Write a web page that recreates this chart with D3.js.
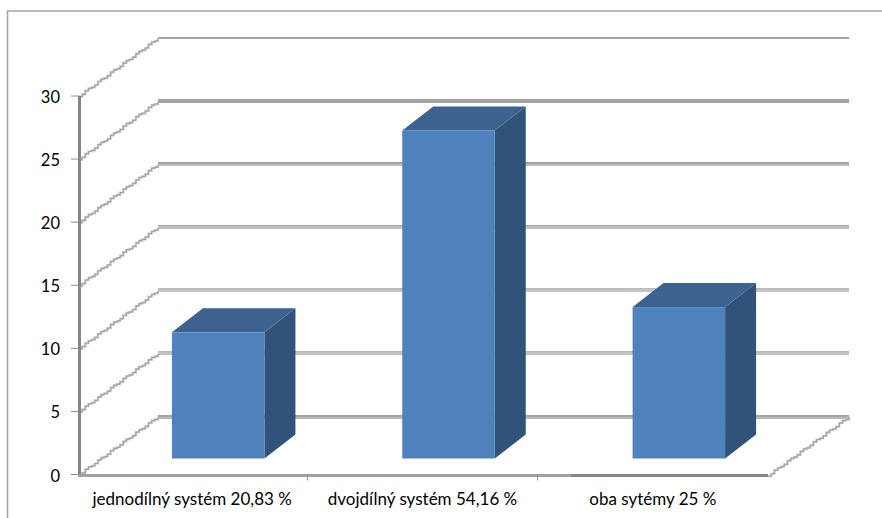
<!DOCTYPE html>
<html><head><meta charset="utf-8">
<script src="https://cdn.jsdelivr.net/npm/d3@7"></script>
<style>html,body{margin:0;padding:0;background:#fff}svg{display:block}text{font-family:Lato,"Open Sans",sans-serif;fill:#000}</style>
</head><body><svg id="c" width="882" height="518"></svg>
<script>
const categories=["jednodílný systém 20,83 %","dvojdílný systém 54,16 %","oba sytémy 25 %"];
const values=[10,26,12];
const yTicks=[0,5,10,15,20,25,30];
const svg=d3.select("#c");
const y=d3.scaleLinear().domain([0,30]).range([474.5,96]);
const x=d3.scaleBand().domain(categories).range([77,768]);
const depth={x:79,y:-58}, barOff={x:26,y:-16}, barDepth={x:31,y:-24}, barW=92.5;
const gridStyle=t=>({0:[2,"#a6a6a6",2,"#b8b8b8"],5:[1,"#b8b8b8",3,"#c2c2c2"],10:[1,"#b8b8b8",3,"#c4c4c4"],15:[1,"#a8a8a8",3,"#c0c0c0"],20:[2,"#a4a4a4",2,"#bdbdbd"],25:[4,"#a3a3a3",0,"#a3a3a3"],30:[2,"#a3a3a3",0,"#a3a3a3"]})[t];
svg.append("path").attr("d","M7.5,518V11H882").attr("fill","none").attr("stroke","#a6a6a6").attr("stroke-width",1.6);
const jag=(x0,y0,x1,y1)=>{const n=Math.round((x1-x0)/3.2);return d3.line().curve(d3.curveStepAfter)(d3.range(n+1).map(i=>[x0+(x1-x0)*i/n,y0+(y1-y0)*i/n+((i%4)<2?.6:-.6)]));};
const side=(x0,y0,x1,y1)=>{
  svg.append("path").attr("d",jag(x0,y0,x1,y1)).attr("fill","none").attr("stroke","#c8c8c8").attr("stroke-width",2.2);
  svg.append("path").attr("d",jag(x0,y0,x1,y1)).attr("fill","none").attr("stroke","#8f8f8f").attr("stroke-width",.7);
};
yTicks.forEach(t=>{
  const fy=y(t),by=Math.round(fy+depth.y),[h1,c1,h2,c2]=gridStyle(t),top=by-(h1+h2)/2;
  svg.append("rect").attr("x",158).attr("width",691).attr("y",top).attr("height",h1).attr("fill",c1);
  if(h2)svg.append("rect").attr("x",158).attr("width",691).attr("y",top+h1).attr("height",h2).attr("fill",c2);
  side(79,fy,79+depth.x,fy+depth.y);
  svg.append("line").attr("x1",71).attr("x2",79).attr("y1",fy).attr("y2",fy).attr("stroke","#8c8c8c");
  svg.append("text").attr("x",60).attr("y",fy+7).attr("text-anchor","end").attr("font-size",16.5).text(t);
});
side(768,y(0)+1,849,y(0)+depth.y);
svg.append("line").attr("x1",79.5).attr("x2",79.5).attr("y1",y(30)).attr("y2",y(0)).attr("stroke","#868686").attr("stroke-width",3);
svg.append("line").attr("x1",78).attr("x2",571).attr("y1",y(0)+1).attr("y2",y(0)+1).attr("stroke","#a0a0a0").attr("stroke-width",3);
svg.append("line").attr("x1",571).attr("x2",768).attr("y1",y(0)+1).attr("y2",y(0)+1).attr("stroke","#868686").attr("stroke-width",3);
categories.forEach((c,i)=>{
  const X=x(c)+x.bandwidth()/2+barOff.x-barW/2, base=y(0)+barOff.y, top=y(values[i])+barOff.y;
  const g=svg.append("g");
  g.append("path").attr("fill","#315379").attr("d",`M${X+barW},${top}l${barDepth.x},${barDepth.y}V${base+barDepth.y}l${-barDepth.x},${-barDepth.y}Z`);
  g.append("path").attr("fill","#3c6290").attr("d",`M${X},${top}l${barDepth.x},${barDepth.y}h${barW}l${-barDepth.x},${-barDepth.y}Z`);
  g.append("rect").attr("x",X).attr("y",top).attr("width",barW).attr("height",base-top).attr("fill","#4f81bd");
  svg.append("text").attr("x",x(c)+x.bandwidth()/2).attr("y",505).attr("text-anchor","middle").attr("font-size",17).text(c);
  if(i>0)svg.append("line").attr("x1",x(c)).attr("x2",x(c)).attr("y1",y(0)).attr("y2",y(0)+6).attr("stroke","#8c8c8c");
});
</script></body></html>
